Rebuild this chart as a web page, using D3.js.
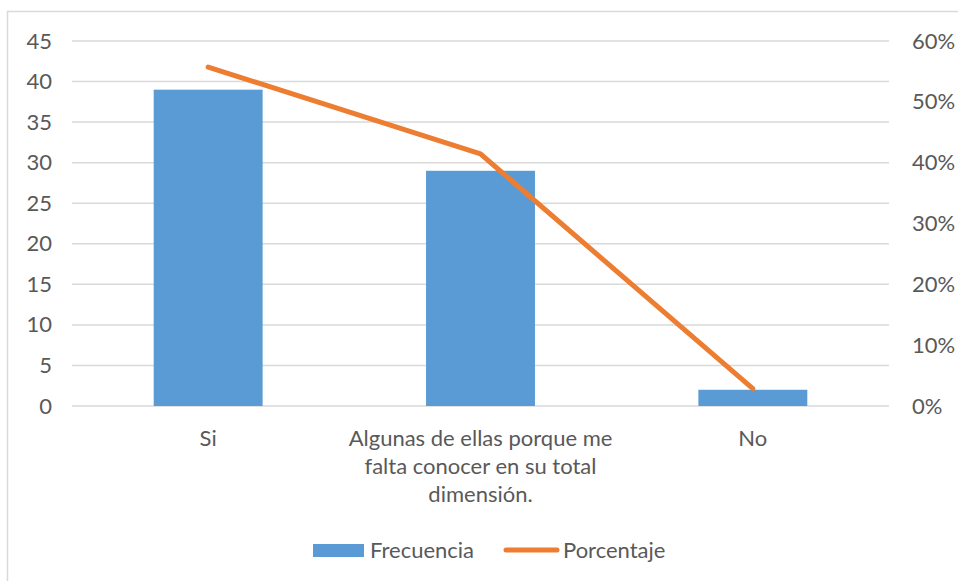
<!DOCTYPE html>
<html>
<head>
<meta charset="utf-8">
<script src="https://cdn.jsdelivr.net/npm/d3@7"></script>
<style>
  body { margin: 0; background: #fff; }
  text { font-family: Lato, "Open Sans", sans-serif; fill: #595959; }
</style>
</head>
<body>
<div id="vis"></div>
<script>
var width = 958;
var height = 581;
var margin = { top: 41, left: 72, bottom: 175, right: 69 };
var fontSize = '22px';

// data
var categories = ['Si', 'Algunas de ellas porque me falta conocer en su total dimensión.', 'No'];
var categoryLines = [
  ['Si'],
  ['Algunas de ellas porque me', 'falta conocer en su total', 'dimensión.'],
  ['No']
];
var frecuencia = [39, 29, 2];
var porcentaje = [0.5571, 0.4143, 0.0286];
var leftTicks = [0, 5, 10, 15, 20, 25, 30, 35, 40, 45];
var rightTicks = [0, 0.1, 0.2, 0.3, 0.4, 0.5, 0.6];

var svg = d3.select('#vis').append('svg')
  .attr('width', width)
  .attr('height', height);

// outer chart frame
svg.append('rect')
  .attr('x', 7.5).attr('y', 11.5)
  .attr('width', 970).attr('height', 620)
  .attr('fill', 'none')
  .attr('stroke', '#d9d9d9')
  .attr('stroke-width', 1.5);

var plotW = width - margin.left - margin.right;
var plotH = height - margin.top - margin.bottom;

var g = svg.append('g')
  .attr('transform', 'translate(' + margin.left + ',' + margin.top + ')');

var x = d3.scaleBand()
  .domain(categories)
  .range([0, plotW])
  .paddingInner(0.6)
  .paddingOuter(0.3);

var yLeft = d3.scaleLinear().domain([0, 45]).range([plotH, 0]);
var yRight = d3.scaleLinear().domain([0, 0.6]).range([plotH, 0]);

// gridlines
g.selectAll('.grid')
  .data(leftTicks)
  .enter().append('line')
  .attr('class', 'grid')
  .attr('x1', 0).attr('x2', plotW)
  .attr('y1', function (d) { return yLeft(d); })
  .attr('y2', function (d) { return yLeft(d); })
  .attr('stroke', '#d9d9d9')
  .attr('stroke-width', 1.5);

// left axis
var axisL = g.append('g')
  .call(d3.axisLeft(yLeft).tickValues(leftTicks).tickSize(0).tickPadding(20));
axisL.select('.domain').remove();
axisL.selectAll('text')
  .style('font-size', fontSize)
  .attr('fill', '#595959')
  .style('font-family', 'Lato, sans-serif');

// right axis
var axisR = g.append('g')
  .attr('transform', 'translate(' + plotW + ',0)')
  .call(d3.axisRight(yRight).tickValues(rightTicks).tickSize(0).tickPadding(23).tickFormat(d3.format('.0%')));
axisR.select('.domain').remove();
axisR.selectAll('text')
  .style('font-size', fontSize)
  .attr('fill', '#595959')
  .style('font-family', 'Lato, sans-serif');

// bars
g.selectAll('.bar')
  .data(frecuencia)
  .enter().append('rect')
  .attr('class', 'bar')
  .attr('x', function (d, i) { return x(categories[i]); })
  .attr('width', x.bandwidth())
  .attr('y', function (d) { return yLeft(d); })
  .attr('height', function (d) { return plotH - yLeft(d); })
  .attr('fill', '#5b9bd5');

// line
var line = d3.line()
  .x(function (d, i) { return x(categories[i]) + x.bandwidth() / 2; })
  .y(function (d) { return yRight(d); });

g.append('path')
  .datum(porcentaje)
  .attr('d', line)
  .attr('fill', 'none')
  .attr('stroke', '#ed7d31')
  .attr('stroke-width', 5)
  .attr('stroke-linecap', 'round')
  .attr('stroke-linejoin', 'round');

// category labels
var lab = g.selectAll('.xlab')
  .data(categories)
  .enter().append('text')
  .attr('class', 'xlab')
  .attr('text-anchor', 'middle')
  .style('font-size', fontSize)
  .attr('transform', function (d) {
    return 'translate(' + (x(d) + x.bandwidth() / 2) + ',' + (plotH + 40) + ')';
  });
lab.selectAll('tspan')
  .data(function (d, i) { return categoryLines[i]; })
  .enter().append('tspan')
  .attr('x', 0)
  .attr('dy', function (d, i) { return i === 0 ? 0 : 28; })
  .text(function (d) { return d; });

// legend
var legend = svg.append('g');
legend.append('rect')
  .attr('x', 313).attr('y', 544)
  .attr('width', 51).attr('height', 13)
  .attr('fill', '#5b9bd5');
legend.append('text')
  .attr('x', 370).attr('y', 558)
  .style('font-size', fontSize)
  .text('Frecuencia');
legend.append('line')
  .attr('x1', 506).attr('x2', 557)
  .attr('y1', 550).attr('y2', 550)
  .attr('stroke', '#ed7d31')
  .attr('stroke-width', 5)
  .attr('stroke-linecap', 'round');
legend.append('text')
  .attr('x', 563).attr('y', 558)
  .style('font-size', fontSize)
  .text('Porcentaje');
</script>
</body>
</html>
